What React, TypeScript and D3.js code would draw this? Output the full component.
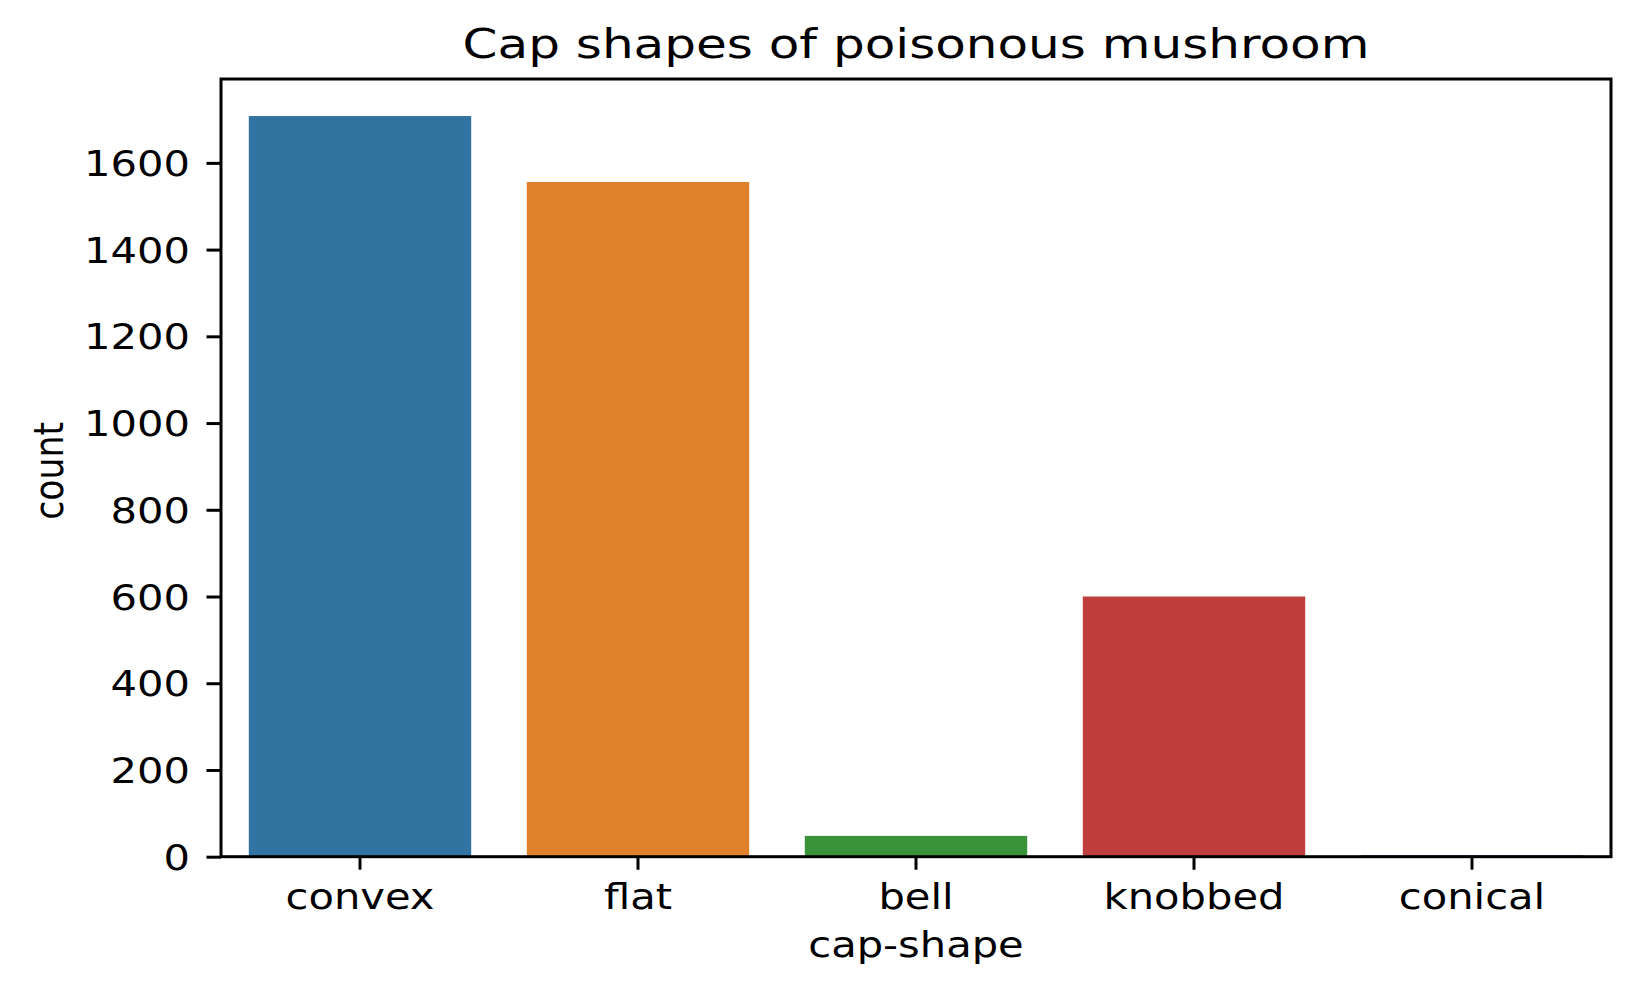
import { useEffect, useRef } from 'react';
import * as d3 from 'd3';

const categories = ['convex', 'flat', 'bell', 'knobbed', 'conical'];
const counts = [1708, 1556, 48, 600, 4];
const barColors = ['#3274a1', '#e1812c', '#3a923a', '#c03d3e', '#9372b2'];
const yTicks = [0, 200, 400, 600, 800, 1000, 1200, 1400, 1600];

const width = 1640;
const height = 991;
const margin = { top: 79, right: 29, bottom: 134.3, left: 221 };
const font = '"DejaVu Sans", sans-serif';
const tickFont = 34.7;
const titleFont = 41.7;
// the reference text is drawn wider than plain DejaVu Sans
const sx = 1.2;

const App = () => {
  const ref = useRef<SVGSVGElement>(null);

  useEffect(() => {
    document.body.style.margin = '0';
    const svg = d3.select(ref.current);
    svg.selectAll('*').remove();

    const innerW = width - margin.left - margin.right;
    const innerH = height - margin.top - margin.bottom;

    const x = d3.scaleBand().domain(categories).range([0, innerW]).paddingInner(0.2).paddingOuter(0.1);
    const y = d3
      .scaleLinear()
      .domain([0, d3.max(counts)! * 1.05])
      .range([innerH, 0]);

    svg.append('rect').attr('width', width).attr('height', height).attr('fill', 'white');

    const g = svg.append('g').attr('transform', `translate(${margin.left},${margin.top})`);

    // bars
    g.selectAll('.bar')
      .data(categories)
      .enter()
      .append('rect')
      .attr('class', 'bar')
      .attr('x', (d) => x(d)!)
      .attr('width', x.bandwidth())
      .attr('y', (d, i) => y(counts[i]))
      .attr('height', (d, i) => innerH - y(counts[i]))
      .attr('fill', (d, i) => barColors[i]);

    // y axis
    const yAxis = g
      .append('g')
      .call(
        d3
          .axisLeft(y)
          .tickValues(yTicks)
          .tickFormat(d3.format('d'))
          .tickSize(14.5)
          .tickPadding(15)
          .tickSizeOuter(0)
      );
    yAxis.select('.domain').remove();
    yAxis.selectAll('line').attr('stroke', 'black').attr('stroke-width', 3);
    yAxis
      .selectAll('text')
      .attr('fill', 'black')
      .attr('x', -31 / sx)
      .attr('transform', `scale(${sx},1)`)
      .style('font-family', font)
      .style('font-size', `${tickFont}px`)
      .attr('dy', '0.36em');

    // x axis
    const xAxis = g
      .append('g')
      .attr('transform', `translate(0,${innerH})`)
      .call(d3.axisBottom(x).tickSize(13).tickPadding(13).tickSizeOuter(0));
    xAxis.select('.domain').remove();
    xAxis.selectAll('line').attr('stroke', 'black').attr('stroke-width', 3);
    xAxis
      .selectAll('text')
      .attr('fill', 'black')
      .attr('transform', `scale(${sx},1)`)
      .style('font-family', font)
      .style('font-size', `${tickFont}px`)
      .attr('dy', '0.76em');

    // frame
    g.append('rect')
      .attr('width', innerW)
      .attr('height', innerH)
      .attr('fill', 'none')
      .attr('stroke', 'black')
      .attr('stroke-width', 3);

    // title
    svg
      .append('text')
      .attr('transform', `translate(${margin.left + innerW / 2},57.5) scale(${sx},1)`)
      .attr('text-anchor', 'middle')
      .style('font-family', font)
      .style('font-size', `${titleFont}px`)
      .text('Cap shapes of poisonous mushroom');

    // axis labels
    svg
      .append('text')
      .attr('transform', `translate(${margin.left + innerW / 2},957) scale(${sx},1)`)
      .attr('text-anchor', 'middle')
      .style('font-family', font)
      .style('font-size', `${tickFont}px`)
      .text('cap-shape');

    svg
      .append('text')
      .attr('transform', `translate(63,${margin.top + innerH / 2 + 3}) rotate(-90) scale(1,${sx})`)
      .attr('text-anchor', 'middle')
      .style('font-family', font)
      .style('font-size', `${tickFont}px`)
      .text('count');
  }, []);

  return <svg ref={ref} width={width} height={height} style={{ display: 'block' }} />;
};

export default App;
